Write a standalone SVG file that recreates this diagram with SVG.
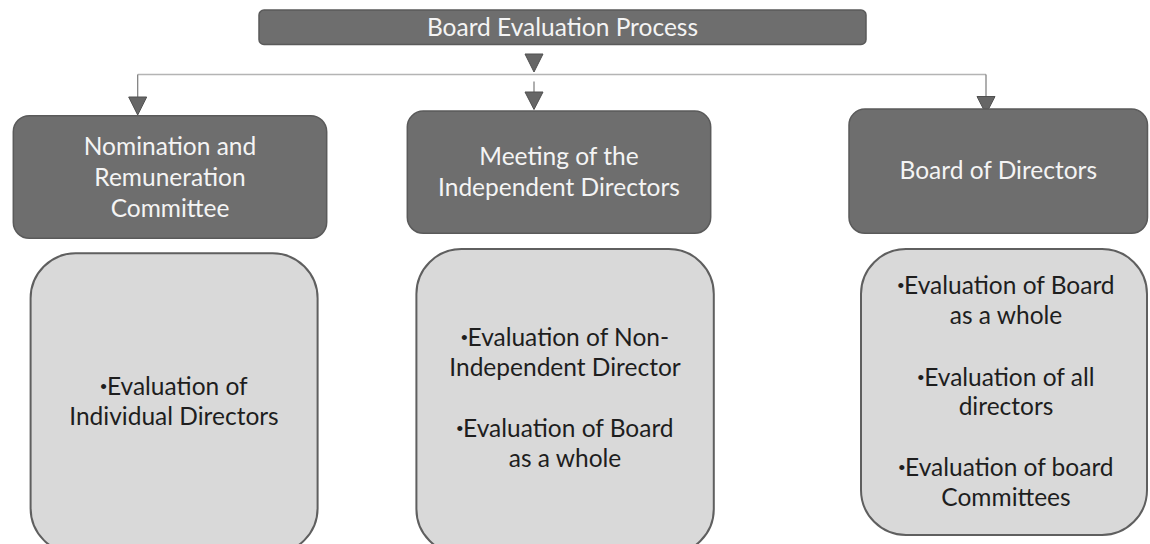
<svg xmlns="http://www.w3.org/2000/svg" width="1150" height="544" viewBox="0 0 1150 544">
<style>
.dark{fill:#6e6e6e;stroke:#5a5a5a;stroke-width:1.5}
.light{fill:#d9d9d9;stroke:#5f5f5f;stroke-width:2}
.t{font-family:Lato,"Liberation Sans",sans-serif;font-size:24.5px;text-anchor:middle}
.tw{fill:#f4f4f4}
.tb{fill:#1e1e1e}
.b{font-family:"Liberation Sans",sans-serif;font-size:19px}
.hline{stroke:#b4b4b4;stroke-width:1.6;fill:none}
.vline{stroke:#7a7a7a;stroke-width:1.2;fill:none}
.arr{fill:#666666;stroke:#505050;stroke-width:1}
</style>
<rect width="1150" height="544" fill="#ffffff"/>
<g id="connectors">
<polygon class="arr" points="525,54 543,54 534,72"/>
<line class="hline" x1="137.7" y1="74.5" x2="986" y2="74.5"/>
<line class="vline" x1="137.7" y1="74.5" x2="137.7" y2="97"/>
<polygon class="arr" points="128.7,97 146.7,97 137.7,115"/>
<line class="vline" x1="534" y1="81.5" x2="534" y2="92"/>
<polygon class="arr" points="525,92 543,92 534,109.5"/>
<line class="vline" x1="986" y1="74.5" x2="986" y2="96.5"/>
<polygon class="arr" points="977,96.5 995,96.5 986,114"/>
</g>
<g id="node-title">
<rect class="dark" x="259" y="10" width="607" height="34.5" rx="5"/>
<text class="t tw" x="562.5" y="36">Board Evaluation Process</text>
</g>
<g id="node-nrc">
<rect class="dark" x="13.3" y="115.7" width="313.4" height="122.6" rx="16"/>
<text class="t tw" x="170" y="155">Nomination and</text>
<text class="t tw" x="170" y="186">Remuneration</text>
<text class="t tw" x="170" y="216.7">Committee</text>
</g>
<g id="node-mid">
<rect class="dark" x="407.3" y="111" width="303.4" height="122.3" rx="16"/>
<text class="t tw" x="559" y="165">Meeting of the</text>
<text class="t tw" x="559" y="196">Independent Directors</text>
</g>
<g id="node-bod">
<rect class="dark" x="849" y="109" width="298.5" height="124.3" rx="16"/>
<text class="t tw" x="998.3" y="179.3">Board of Directors</text>
</g>
<g id="node-nrc-list">
<rect class="light" x="30.6" y="253.3" width="287" height="300" rx="45"/>
<text class="t tb" x="174" y="395"><tspan class="b" dy="-2">•</tspan><tspan dy="2">Evaluation of</tspan></text>
<text class="t tb" x="174" y="425">Individual Directors</text>
</g>
<g id="node-mid-list">
<rect class="light" x="416.4" y="249" width="297.4" height="305" rx="45"/>
<text class="t tb" x="565" y="346"><tspan class="b" dy="-2">•</tspan><tspan dy="2">Evaluation of Non-</tspan></text>
<text class="t tb" x="565" y="376">Independent Director</text>
<text class="t tb" x="565" y="436.7"><tspan class="b" dy="-2">•</tspan><tspan dy="2">Evaluation of Board</tspan></text>
<text class="t tb" x="565" y="466.7">as a whole</text>
</g>
<g id="node-bod-list">
<rect class="light" x="861" y="249" width="286" height="286" rx="45"/>
<text class="t tb" x="1006" y="294"><tspan class="b" dy="-2">•</tspan><tspan dy="2">Evaluation of Board</tspan></text>
<text class="t tb" x="1006" y="324.3">as a whole</text>
<text class="t tb" x="1006" y="385.7"><tspan class="b" dy="-2">•</tspan><tspan dy="2">Evaluation of all</tspan></text>
<text class="t tb" x="1006" y="415">directors</text>
<text class="t tb" x="1006" y="476"><tspan class="b" dy="-2">•</tspan><tspan dy="2">Evaluation of board</tspan></text>
<text class="t tb" x="1006" y="505.7">Committees</text>
</g>
</svg>
